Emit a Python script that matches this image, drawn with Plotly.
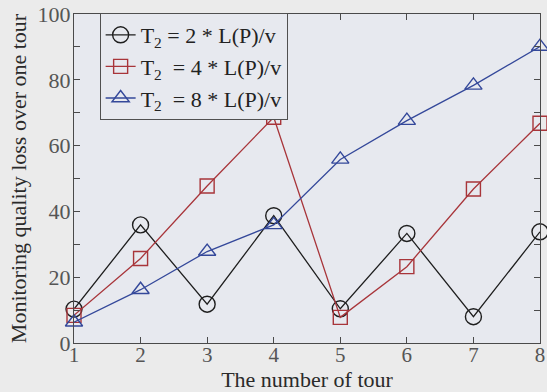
import plotly.graph_objects as go

tours = [1, 2, 3, 4, 5, 6, 7, 8]
loss_t2_2 = [10.3, 35.9, 11.8, 38.7, 10.4, 33.3, 8.0, 33.8]
loss_t2_4 = [8.4, 25.7, 47.7, 68.6, 7.8, 23.2, 46.8, 66.8]
loss_t2_8 = [6.3, 16.2, 27.8, 35.9, 55.8, 67.6, 78.3, 90.1]

series_names = [
    "T<sub>2</sub> = 2 * L(P)/v",
    "T<sub>2</sub>  = 4 * L(P)/v",
    "T<sub>2</sub>  = 8 * L(P)/v",
]
y_ticks = [0, 20, 40, 60, 80, 100]

font_family = "Liberation Serif, Times New Roman, serif"
axis_color = "#4a4a4a"

fig = go.Figure()
styles = [
    (loss_t2_2, "#1e1e1e", "circle-open", 16),
    (loss_t2_4, "#a8353a", "square-open", 14),
    (loss_t2_8, "#34489a", "triangle-up-open", 15),
]
for name, (vals, color, symbol, size) in zip(series_names, styles):
    fig.add_trace(go.Scatter(
        x=tours, y=vals, name=name, mode="lines+markers",
        line=dict(color=color, width=1.3),
        marker=dict(symbol=symbol, size=size, color=color, line=dict(width=1.4, color=color)),
        cliponaxis=False,
    ))

fig.update_layout(
    width=547, height=392,
    margin=dict(l=74, r=2, t=14, b=49),
    paper_bgcolor="#ebebeb",
    plot_bgcolor="#e7e9ef",
    font=dict(family=font_family, size=21, color="#2a2a2a"),
    showlegend=True,
    legend=dict(
        x=0.055, y=1.003, xanchor="left", yanchor="top",
        bgcolor="#e7e9ef", bordercolor="#505050", borderwidth=1,
        font=dict(size=22, family=font_family, color="#222"),
        itemwidth=30, tracegroupgap=0,
    ),
)
fig.update_xaxes(
    range=[1, 8], tickvals=tours, ticktext=[str(t) for t in tours],
    showgrid=False, zeroline=False,
    showline=True, linecolor=axis_color, linewidth=1.2, mirror="ticks",
    ticks="inside", ticklen=6, tickcolor=axis_color,
    tickfont=dict(size=21, color="#555"),
    ticklabelstandoff=-7, ticklabeloverflow="allow",
    title=dict(text="The number of tour", font=dict(size=22, color="#2a2a2a"), standoff=5),
)
fig.update_yaxes(
    range=[0, 100], tickvals=y_ticks,
    showgrid=False, zeroline=False,
    showline=True, linecolor=axis_color, linewidth=1.2, mirror="ticks",
    ticks="inside", ticklen=6, tickcolor=axis_color,
    minor=dict(dtick=10, ticks="inside", ticklen=6, tickcolor=axis_color, showgrid=False),
    tickfont=dict(size=22, color="#555"),
    ticklabelstandoff=-2,
    title=dict(text="Monitoring quality loss over one tour", font=dict(size=22, color="#2a2a2a"), standoff=4),
)

fig.write_html("out.html")
